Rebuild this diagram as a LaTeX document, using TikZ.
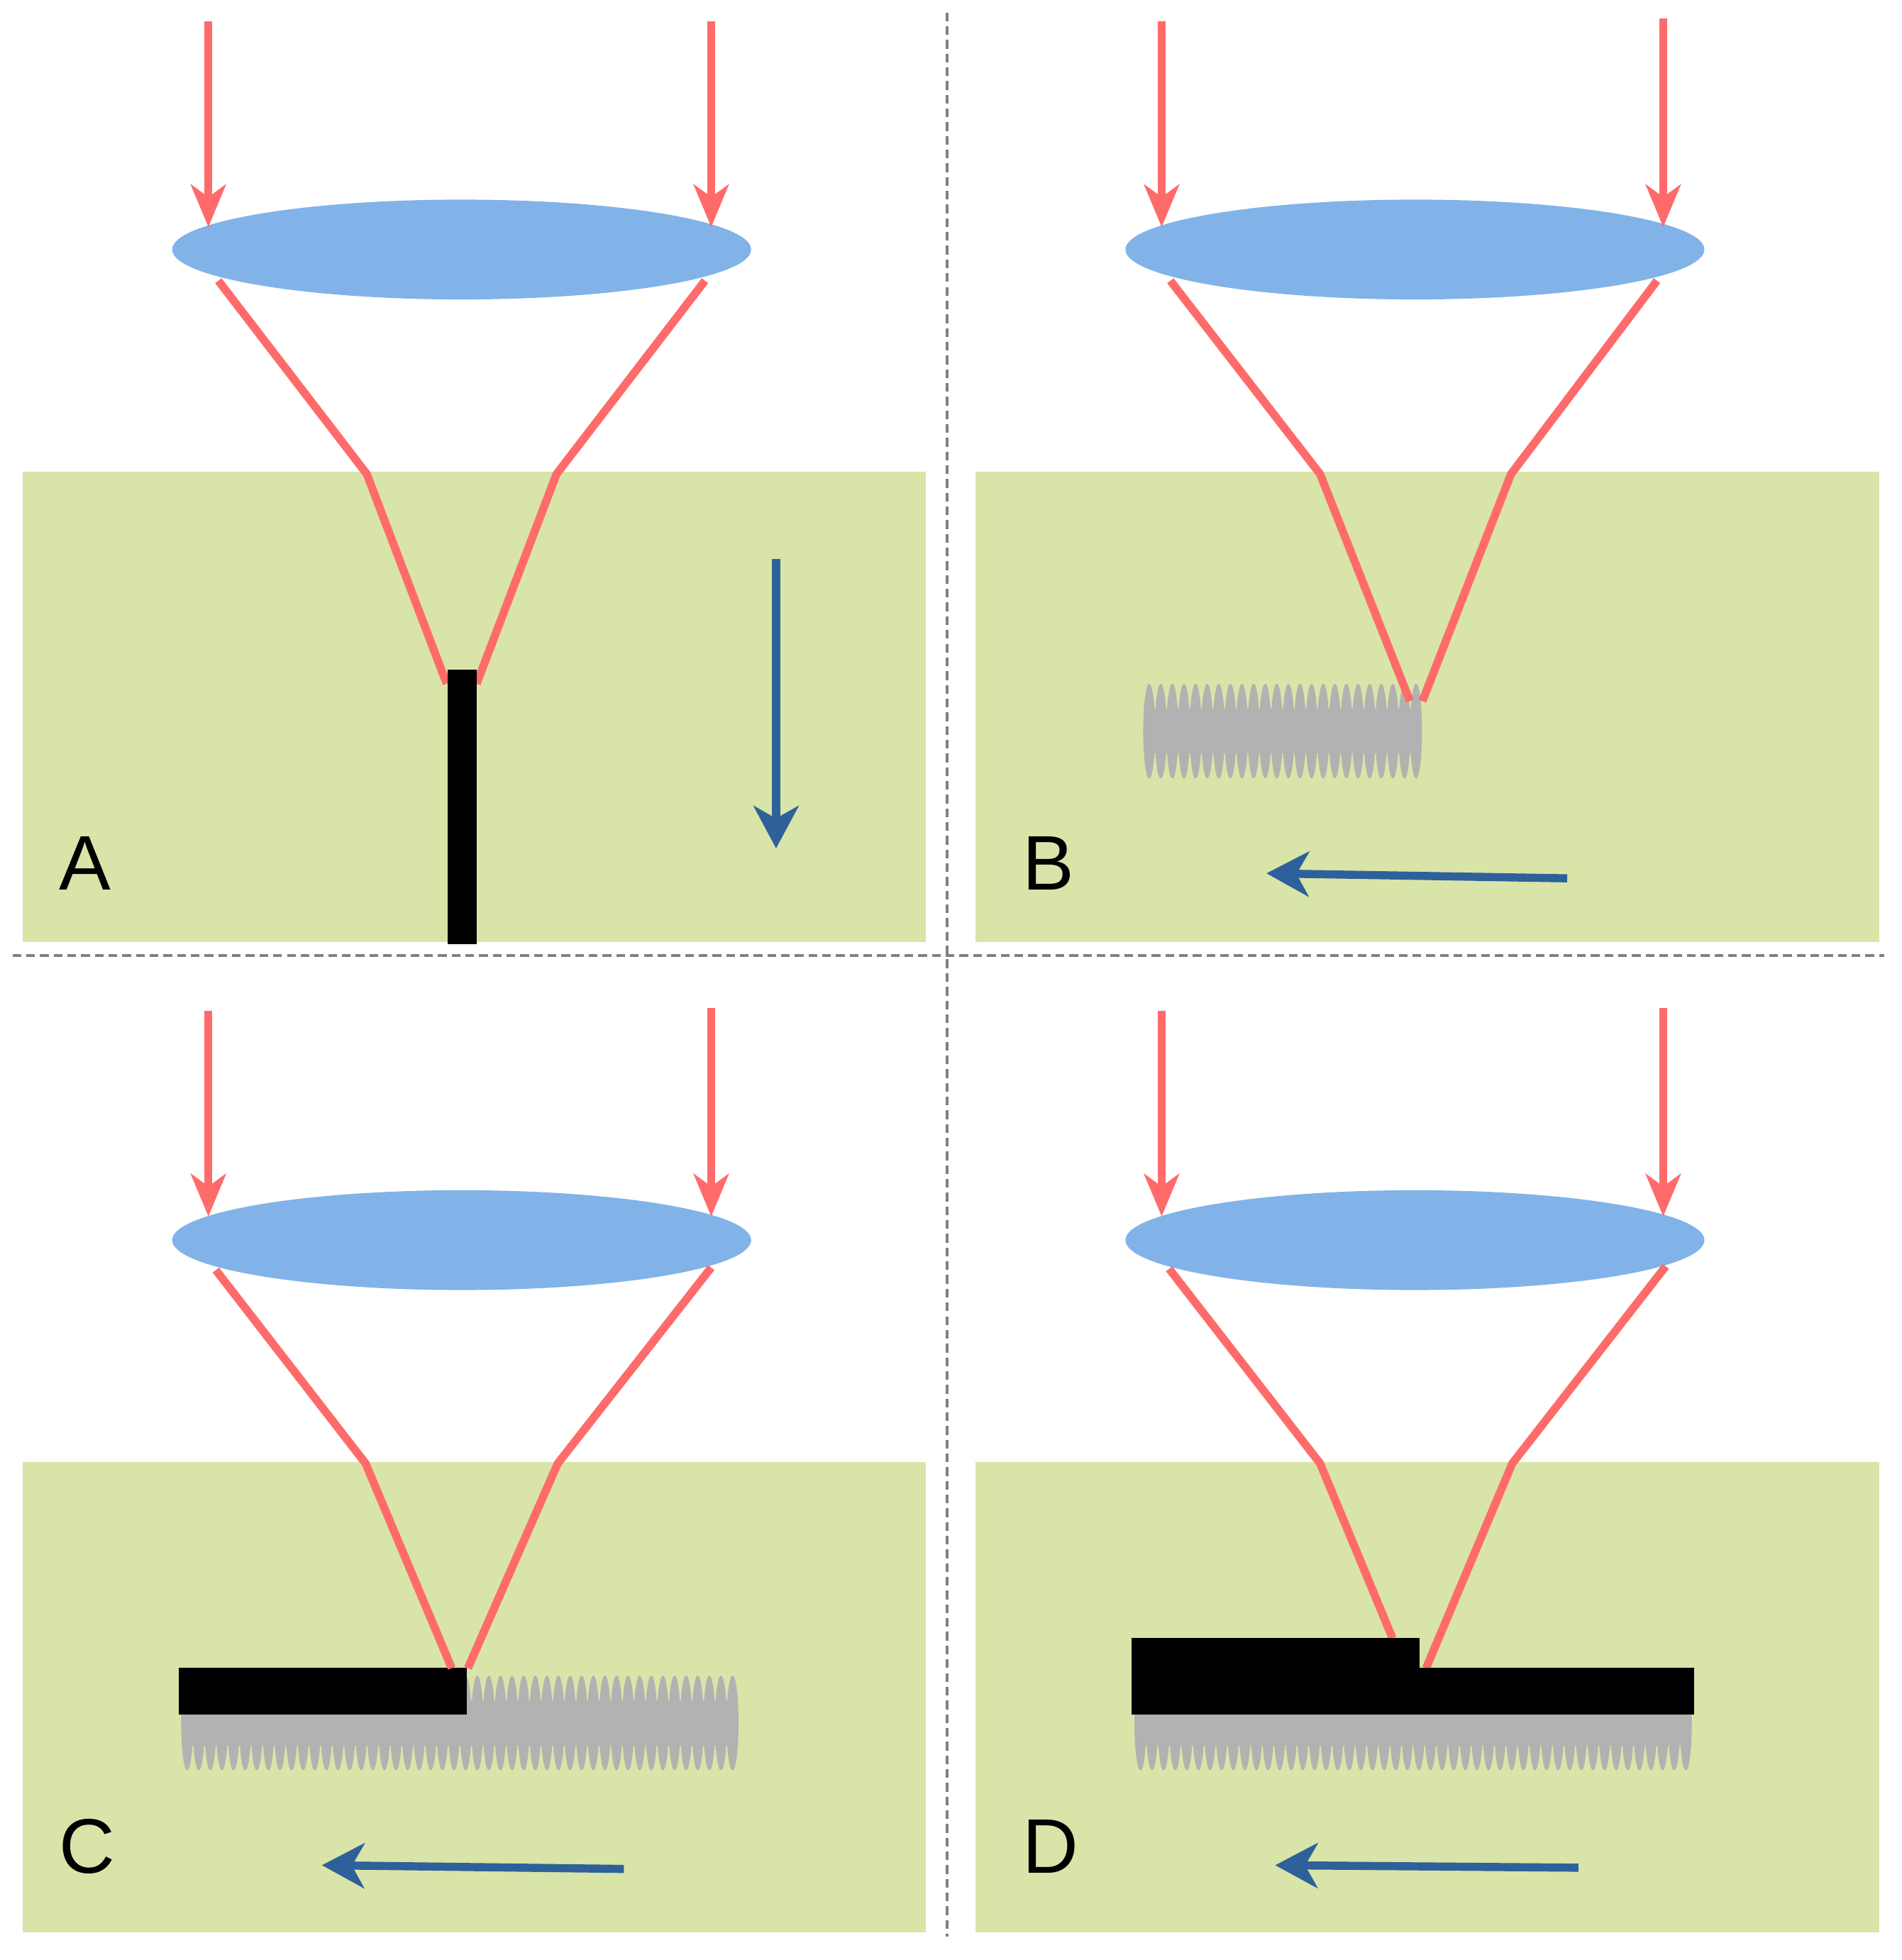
\documentclass[tikz,border=0pt]{standalone}
\usepackage{fontspec}
\setmainfont{Liberation Sans}
\usetikzlibrary{arrows.meta}
\definecolor{sub}{HTML}{D9E4A8}
\definecolor{lens}{HTML}{81B3E8}
\definecolor{ray}{HTML}{FF6B6B}
\definecolor{mv}{HTML}{2E6199}
\definecolor{rip}{HTML}{B2B2B2}
\tikzset{
  substrate/.style={fill=sub,draw=none},
  lensS/.style={fill=lens,draw=none},
  beam/.style={draw=ray,line width=6.5pt},
  inray/.style={draw=ray,line width=6.5pt,-{Stealth[length=34pt,width=28pt,inset=10pt]}},
  move/.style={draw=mv,line width=6.5pt,-{Stealth[length=34pt,width=36pt,inset=10pt]}},
  wave/.style={fill=rip,draw=none},
  blackpart/.style={fill=black,draw=none},
  lbl/.style={font=\fontsize{62}{66}\selectfont,inner sep=0pt},
  sep/.style={draw=gray,line width=2.5pt,dash pattern=on 7pt off 4pt}
}
\newcommand{\ripplerow}[4]{% x0, step count N, spacing, y centre
  \foreach \i in {0,...,#2}{\fill[wave] ({#1+\i*#3},#4) ellipse[x radius=4.8pt,y radius=38pt];}
  \fill[wave] (#1,#4-18) rectangle ({#1+#2*#3},#4+18);}
\begin{document}
\begin{tikzpicture}[x=1pt,y=-1pt]
\useasboundingbox (0,0) rectangle (1524,1571);
% separators
\coordinate (v1) at (759,10); \coordinate (v2) at (759,1552);
\coordinate (h1) at (10,766); \coordinate (h2) at (1510,766);
\draw[sep] (v1) -- (v2);
\draw[sep] (h1) -- (h2);
% ===== A =====
\fill[substrate] (18,378) rectangle (742,755);
\fill[lensS] (370,200) ellipse[x radius=232pt,y radius=40pt];
\coordinate (a1) at (167,17); \coordinate (a1e) at (167,182);
\coordinate (a2) at (570,17); \coordinate (a2e) at (570,182);
\draw[inray] (a1) -- (a1e);
\draw[inray] (a2) -- (a2e);
\draw[beam] (175,225) -- (294,380) -- (358,548);
\draw[beam] (565,225) -- (446,380) -- (382,548);
\fill[blackpart] (359,537) rectangle (382,757);
\coordinate (am1) at (622,448); \coordinate (am2) at (622,680);
\draw[move] (am1) -- (am2);
\node[lbl] (la) at (68,692) {A};
% ===== B =====
\fill[substrate] (782,378) rectangle (1506,755);
\fill[lensS] (1134,200) ellipse[x radius=232pt,y radius=40pt];
\coordinate (b1) at (931,17); \coordinate (b1e) at (931,182);
\coordinate (b2) at (1333,15); \coordinate (b2e) at (1333,182);
\draw[inray] (b1) -- (b1e);
\draw[inray] (b2) -- (b2e);
\ripplerow{921}{23}{9.3}{586}
\draw[beam] (938,225) -- (1058,380) -- (1130,562);
\draw[beam] (1328,225) -- (1211,380) -- (1140,562);
\coordinate (bm1) at (1256,704); \coordinate (bm2) at (1015,700);
\draw[move] (bm1) -- (bm2);
\node[lbl] (lb) at (840,692) {B};
% ===== C =====
\fill[substrate] (18,1172) rectangle (742,1549);
\fill[lensS] (370,994) ellipse[x radius=232pt,y radius=40pt];
\coordinate (c1) at (167,810); \coordinate (c1e) at (167,975);
\coordinate (c2) at (570,808); \coordinate (c2e) at (570,975);
\draw[inray] (c1) -- (c1e);
\draw[inray] (c2) -- (c2e);
\ripplerow{150}{47}{9.3}{1381}
\fill[blackpart] (143,1337) rectangle (374,1374);
\draw[beam] (173,1018) -- (293,1173) -- (362,1337);
\draw[beam] (570,1016) -- (447,1173) -- (375,1337);
\coordinate (cm1) at (500,1498); \coordinate (cm2) at (258,1495);
\draw[move] (cm1) -- (cm2);
\node[lbl] (lc) at (70,1480) {C};
% ===== D =====
\fill[substrate] (782,1172) rectangle (1506,1549);
\fill[lensS] (1134,994) ellipse[x radius=232pt,y radius=40pt];
\coordinate (d1) at (931,810); \coordinate (d1e) at (931,975);
\coordinate (d2) at (1333,808); \coordinate (d2e) at (1333,975);
\draw[inray] (d1) -- (d1e);
\draw[inray] (d2) -- (d2e);
\ripplerow{914}{47}{9.3}{1381}
\draw[beam] (937,1017) -- (1058,1173) -- (1116,1313);
\draw[beam] (1335,1015) -- (1212,1173) -- (1143,1337);
\fill[blackpart] (907,1313) rectangle (1138,1374);
\fill[blackpart] (1138,1337) rectangle (1358,1374);
\coordinate (dm1) at (1265,1497); \coordinate (dm2) at (1022,1495);
\draw[move] (dm1) -- (dm2);
\node[lbl] (ld) at (842,1480) {D};
\end{tikzpicture}
\end{document}
